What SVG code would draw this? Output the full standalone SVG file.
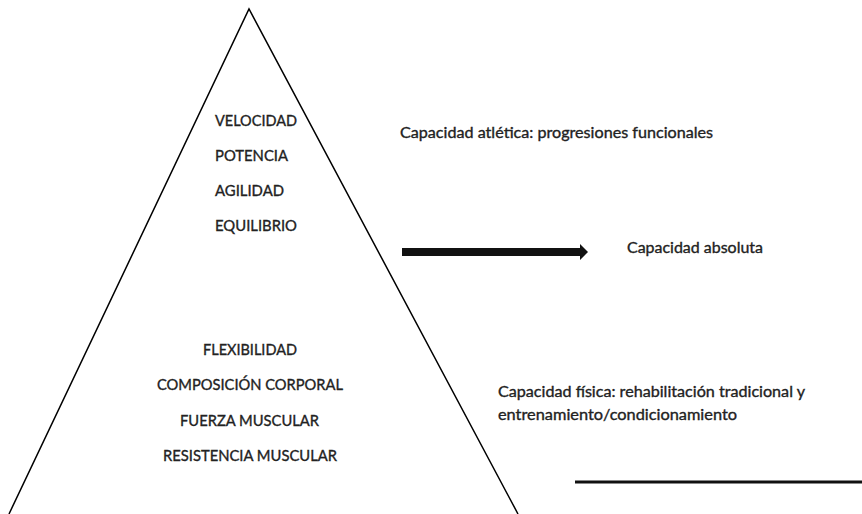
<svg xmlns="http://www.w3.org/2000/svg" width="862" height="514" viewBox="0 0 862 514">
<style>
.t{font-family:Lato,"Open Sans","Liberation Sans",sans-serif;font-size:15.5px;fill:#222;stroke:#222;stroke-width:0.35px}
</style>
<rect width="862" height="514" fill="#fff"/>
<g id="piramide">
<polyline points="9,514 249,9 518,514" fill="none" stroke="#000" stroke-width="1.5"/>
</g>
<g id="capacidad-atletica-lista">
<text class="t" x="215" y="126" textLength="82" lengthAdjust="spacingAndGlyphs">VELOCIDAD</text>
<text class="t" x="215" y="161" textLength="73" lengthAdjust="spacingAndGlyphs">POTENCIA</text>
<text class="t" x="215" y="196" textLength="69" lengthAdjust="spacingAndGlyphs">AGILIDAD</text>
<text class="t" x="215" y="231" textLength="82" lengthAdjust="spacingAndGlyphs">EQUILIBRIO</text>
</g>
<g id="capacidad-fisica-lista">
<text class="t" x="203" y="355" textLength="94" lengthAdjust="spacingAndGlyphs">FLEXIBILIDAD</text>
<text class="t" x="157" y="390" textLength="186" lengthAdjust="spacingAndGlyphs">COMPOSICIÓN CORPORAL</text>
<text class="t" x="180" y="426" textLength="139" lengthAdjust="spacingAndGlyphs">FUERZA MUSCULAR</text>
<text class="t" x="163" y="461" textLength="174" lengthAdjust="spacingAndGlyphs">RESISTENCIA MUSCULAR</text>
</g>
<g id="capacidad-atletica">
<text class="t" x="400" y="138" textLength="313" lengthAdjust="spacingAndGlyphs">Capacidad atlética: progresiones funcionales</text>
</g>
<g id="capacidad-absoluta">
<text class="t" x="627" y="253" textLength="136" lengthAdjust="spacingAndGlyphs">Capacidad absoluta</text>
</g>
<g id="capacidad-fisica">
<text class="t" x="498" y="397" textLength="307" lengthAdjust="spacingAndGlyphs">Capacidad física: rehabilitación tradicional y</text>
<text class="t" x="498" y="420" textLength="239" lengthAdjust="spacingAndGlyphs">entrenamiento/condicionamiento</text>
</g>
<g id="conectores">
<polygon points="402,248 580,248 580,244 588,252 580,260 580,256 402,256" fill="#111"/>
<line x1="575" y1="482" x2="862" y2="482" stroke="#111" stroke-width="3"/>
</g>
</svg>
